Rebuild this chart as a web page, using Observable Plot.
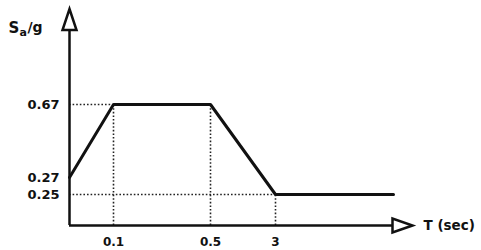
<!DOCTYPE html>
<html>
<head>
<meta charset="utf-8">
<script src="https://cdn.jsdelivr.net/npm/d3@7"></script>
<script src="https://cdn.jsdelivr.net/npm/@observablehq/plot@0.6"></script>
<style>
  html, body { margin: 0; padding: 0; background: #fff; }
  svg { display: block; }
</style>
</head>
<body>
<div id="chart"></div>
<script>
// Design spectrum data
const periods = [0, 0.1, 0.5, 3, 4];
const saValues = [0.27, 0.67, 0.67, 0.25, 0.25];
const xTicks = [0.1, 0.5, 3];
const xTickLabels = ["0.1", "0.5", "3"];
const yTicks = [0.67, 0.27, 0.25];
const yTickLabels = ["0.67", "0.27", "0.25"];
// guide (dotted) corners
const guideT = [0.1, 0.5, 3];
const guideSa = [0.67, 0.67, 0.25];

const spectrum = periods.map((t, i) => ({t, sa: saValues[i]}));
const guides = guideT.map((t, i) => ({t, sa: guideSa[i]}));
const hGuides = [{sa: 0.67, t: 0.1}, {sa: 0.25, t: 3}];
const xt = xTicks.map((t, i) => ({t, label: xTickLabels[i]}));
const yt = yTicks.map((v, i) => ({v, label: yTickLabels[i]}));

const upTri = {draw(ctx) { ctx.moveTo(0, -10.5); ctx.lineTo(7, 10.5); ctx.lineTo(-7, 10.5); ctx.closePath(); }};
const rightTri = {draw(ctx) { ctx.moveTo(10, 0); ctx.lineTo(-10, 7); ctx.lineTo(-10, -7); ctx.closePath(); }};

const font = "DejaVu Sans";
const chart = Plot.plot({
  width: 481,
  height: 250,
  margin: 0,
  style: {background: "#fff", fontFamily: font},
  x: {type: "linear", domain: [0, 0.1, 0.5, 3, 4, 5], range: [69, 113, 210, 275, 393, 402], axis: null},
  y: {type: "linear", domain: [0, 0.25, 0.27, 0.67, 1], range: [225, 194, 177, 104, 19], axis: null},
  marks: [
    // dotted guides
    Plot.ruleX(guides, {x: "t", y1: 0, y2: "sa", stroke: "#222", strokeWidth: 1.6, strokeDasharray: "1.6,2"}),
    Plot.ruleY(hGuides, {y: "sa", x1: 0, x2: "t", stroke: "#222", strokeWidth: 1.6, strokeDasharray: "1.6,2"}),
    // spectrum
    Plot.line(spectrum, {x: "t", y: "sa", stroke: "#111", strokeWidth: 3, strokeLinejoin: "miter"}),
    // axes
    Plot.ruleX([0], {y1: 0, y2: 1, stroke: "#111", strokeWidth: 2.5}),
    Plot.ruleY([0], {x1: 0, x2: 5, stroke: "#111", strokeWidth: 2.5}),
    Plot.dot([{t: 0, v: 1}], {x: "t", y: "v", symbol: upTri, fill: "#fff", stroke: "#111", strokeWidth: 2.5}),
    Plot.dot([{t: 5, v: 0}], {x: "t", y: "v", symbol: rightTri, fill: "#fff", stroke: "#111", strokeWidth: 2.5}),
    // tick labels
    Plot.text(xt, {x: "t", y: 0, text: "label", dy: 17, fontSize: 12, fontWeight: "bold", fill: "#111"}),
    Plot.text(yt, {x: 0, y: "v", text: "label", dx: -10, textAnchor: "end", fontSize: 13, fontWeight: "bold", fill: "#111"}),
    // axis titles
    Plot.text(["T (sec)"], {x: 5, y: 0, text: d => d, dx: 21, textAnchor: "start", fontSize: 13.5, fontWeight: "bold", fill: "#111"}),
    Plot.text(["S"], {frameAnchor: "top-left", text: d => d, dx: 8, dy: 22, textAnchor: "start", fontSize: 15, fontWeight: "bold", fill: "#111"}),
    Plot.text(["a"], {frameAnchor: "top-left", text: d => d, dx: 19, dy: 28, textAnchor: "start", fontSize: 11, fontWeight: "bold", fill: "#111"}),
    Plot.text(["/g"], {frameAnchor: "top-left", text: d => d, dx: 27, dy: 22, textAnchor: "start", fontSize: 14, fontWeight: "bold", fill: "#111"})
  ]
});
document.getElementById("chart").appendChild(chart);
</script>
</body>
</html>
